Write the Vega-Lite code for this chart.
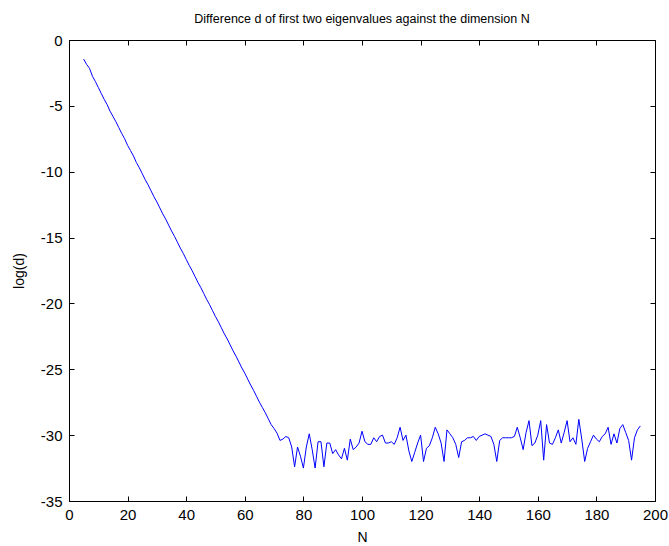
{
  "$schema": "https://vega.github.io/schema/vega-lite/v6.json",
  "autosize": "none",
  "padding": {"left": 69, "top": 40, "right": 14, "bottom": 45},
  "width": 586,
  "height": 461,
  "background": "white",
  "title": {
    "text": "Difference d of first two eigenvalues against the dimension N",
    "fontSize": 12.5,
    "fontWeight": "normal",
    "font": "Liberation Sans",
    "color": "black",
    "offset": 8,
    "anchor": "middle"
  },
  "config": {
    "view": {"stroke": "black", "strokeWidth": 1},
    "axis": {
      "grid": false,
      "domainColor": "black",
      "tickColor": "black",
      "labelColor": "black",
      "labelFont": "Liberation Sans",
      "labelFontSize": 15,
      "titleFont": "Liberation Sans",
      "titleFontSize": 14,
      "titleFontWeight": "normal",
      "titleColor": "black",
      "tickSize": -5,
      "labelExpr": "replace(datum.label, '\u2212', '-')"
    }
  },
  "data": {
    "values": [
      {"N": 5, "logd": -1.45}, {"N": 6, "logd": -1.85}, {"N": 7, "logd": -2.15}, {"N": 8, "logd": -2.75},
      {"N": 9, "logd": -3.15}, {"N": 10, "logd": -3.6}, {"N": 11, "logd": -4.05}, {"N": 12, "logd": -4.5},
      {"N": 13, "logd": -4.9}, {"N": 14, "logd": -5.4}, {"N": 15, "logd": -5.8}, {"N": 16, "logd": -6.2},
      {"N": 17, "logd": -6.65}, {"N": 18, "logd": -7.1}, {"N": 19, "logd": -7.5}, {"N": 20, "logd": -8.0},
      {"N": 21, "logd": -8.4}, {"N": 22, "logd": -8.8}, {"N": 23, "logd": -9.3}, {"N": 24, "logd": -9.7},
      {"N": 25, "logd": -10.15}, {"N": 26, "logd": -10.6}, {"N": 27, "logd": -11.0}, {"N": 28, "logd": -11.45},
      {"N": 29, "logd": -11.9}, {"N": 30, "logd": -12.3}, {"N": 31, "logd": -12.75}, {"N": 32, "logd": -13.2},
      {"N": 33, "logd": -13.6}, {"N": 34, "logd": -14.05}, {"N": 35, "logd": -14.5}, {"N": 36, "logd": -14.9},
      {"N": 37, "logd": -15.35}, {"N": 38, "logd": -15.8}, {"N": 39, "logd": -16.2}, {"N": 40, "logd": -16.65},
      {"N": 41, "logd": -17.1}, {"N": 42, "logd": -17.5}, {"N": 43, "logd": -17.95}, {"N": 44, "logd": -18.4},
      {"N": 45, "logd": -18.8}, {"N": 46, "logd": -19.25}, {"N": 47, "logd": -19.7}, {"N": 48, "logd": -20.1},
      {"N": 49, "logd": -20.55}, {"N": 50, "logd": -21.0}, {"N": 51, "logd": -21.4}, {"N": 52, "logd": -21.85},
      {"N": 53, "logd": -22.3}, {"N": 54, "logd": -22.7}, {"N": 55, "logd": -23.15}, {"N": 56, "logd": -23.6},
      {"N": 57, "logd": -24.0}, {"N": 58, "logd": -24.45}, {"N": 59, "logd": -24.9}, {"N": 60, "logd": -25.3},
      {"N": 61, "logd": -25.75}, {"N": 62, "logd": -26.2}, {"N": 63, "logd": -26.6}, {"N": 64, "logd": -27.05},
      {"N": 65, "logd": -27.5}, {"N": 66, "logd": -27.9}, {"N": 67, "logd": -28.3}, {"N": 68, "logd": -28.75},
      {"N": 69, "logd": -29.2}, {"N": 70, "logd": -29.5}, {"N": 71, "logd": -29.85}, {"N": 72, "logd": -30.4},
      {"N": 73, "logd": -30.3}, {"N": 74, "logd": -30.1}, {"N": 75, "logd": -30.2}, {"N": 76, "logd": -30.9},
      {"N": 77, "logd": -32.4}, {"N": 78, "logd": -30.9}, {"N": 79, "logd": -31.6}, {"N": 80, "logd": -32.5},
      {"N": 81, "logd": -30.9}, {"N": 82, "logd": -29.9}, {"N": 83, "logd": -31.1}, {"N": 84, "logd": -32.5},
      {"N": 85, "logd": -30.5}, {"N": 86, "logd": -30.5}, {"N": 87, "logd": -32.4}, {"N": 88, "logd": -30.6},
      {"N": 89, "logd": -30.6}, {"N": 90, "logd": -31.4}, {"N": 91, "logd": -31.1}, {"N": 92, "logd": -31.5},
      {"N": 93, "logd": -31.8}, {"N": 94, "logd": -31.0}, {"N": 95, "logd": -31.9}, {"N": 96, "logd": -30.3},
      {"N": 97, "logd": -31.1}, {"N": 98, "logd": -30.9}, {"N": 99, "logd": -30.6}, {"N": 100, "logd": -29.7},
      {"N": 101, "logd": -30.5}, {"N": 102, "logd": -30.7}, {"N": 103, "logd": -30.7}, {"N": 104, "logd": -30.2},
      {"N": 105, "logd": -30.5}, {"N": 106, "logd": -30.1}, {"N": 107, "logd": -30.0}, {"N": 108, "logd": -30.6},
      {"N": 109, "logd": -30.6}, {"N": 110, "logd": -30.5}, {"N": 111, "logd": -30.7}, {"N": 112, "logd": -30.2},
      {"N": 113, "logd": -29.4}, {"N": 114, "logd": -30.4}, {"N": 115, "logd": -30.0}, {"N": 116, "logd": -31.2},
      {"N": 117, "logd": -32.0}, {"N": 118, "logd": -31.3}, {"N": 119, "logd": -30.6}, {"N": 120, "logd": -30.0},
      {"N": 121, "logd": -32.0}, {"N": 122, "logd": -31.0}, {"N": 123, "logd": -30.8}, {"N": 124, "logd": -30.2},
      {"N": 125, "logd": -29.4}, {"N": 126, "logd": -29.9}, {"N": 127, "logd": -30.6}, {"N": 128, "logd": -32.0},
      {"N": 129, "logd": -29.6}, {"N": 130, "logd": -29.9}, {"N": 131, "logd": -30.2}, {"N": 132, "logd": -30.7},
      {"N": 133, "logd": -31.7}, {"N": 134, "logd": -30.5}, {"N": 135, "logd": -30.4}, {"N": 136, "logd": -30.2},
      {"N": 137, "logd": -30.2}, {"N": 138, "logd": -30.1}, {"N": 139, "logd": -30.4}, {"N": 140, "logd": -30.1},
      {"N": 141, "logd": -30.0}, {"N": 142, "logd": -29.9}, {"N": 143, "logd": -30.0}, {"N": 144, "logd": -30.1},
      {"N": 145, "logd": -30.7}, {"N": 146, "logd": -32.0}, {"N": 147, "logd": -30.4}, {"N": 148, "logd": -30.2},
      {"N": 149, "logd": -30.2}, {"N": 150, "logd": -30.2}, {"N": 151, "logd": -30.2}, {"N": 152, "logd": -30.1},
      {"N": 153, "logd": -29.4}, {"N": 154, "logd": -30.2}, {"N": 155, "logd": -31.1}, {"N": 156, "logd": -29.8},
      {"N": 157, "logd": -28.9}, {"N": 158, "logd": -30.8}, {"N": 159, "logd": -30.6}, {"N": 160, "logd": -30.0},
      {"N": 161, "logd": -28.9}, {"N": 162, "logd": -31.9}, {"N": 163, "logd": -29.2}, {"N": 164, "logd": -30.6},
      {"N": 165, "logd": -30.7}, {"N": 166, "logd": -30.2}, {"N": 167, "logd": -29.6}, {"N": 168, "logd": -30.6},
      {"N": 169, "logd": -29.8}, {"N": 170, "logd": -28.9}, {"N": 171, "logd": -30.5}, {"N": 172, "logd": -30.2},
      {"N": 173, "logd": -30.7}, {"N": 174, "logd": -28.8}, {"N": 175, "logd": -30.3}, {"N": 176, "logd": -32.0},
      {"N": 177, "logd": -31.0}, {"N": 178, "logd": -30.5}, {"N": 179, "logd": -30.0}, {"N": 180, "logd": -30.3},
      {"N": 181, "logd": -30.5}, {"N": 182, "logd": -30.1}, {"N": 183, "logd": -29.9}, {"N": 184, "logd": -29.4},
      {"N": 185, "logd": -30.7}, {"N": 186, "logd": -29.9}, {"N": 187, "logd": -30.6}, {"N": 188, "logd": -29.5},
      {"N": 189, "logd": -29.2}, {"N": 190, "logd": -29.8}, {"N": 191, "logd": -30.4}, {"N": 192, "logd": -31.9},
      {"N": 193, "logd": -30.2}, {"N": 194, "logd": -29.6}, {"N": 195, "logd": -29.3}
    ]
  },
  "layer": [
    {
      "mark": {"type": "line", "color": "#0000ff", "strokeWidth": 1},
      "encoding": {
        "x": {
          "field": "N", "type": "quantitative",
          "scale": {"domain": [0, 200], "nice": false, "zero": false},
          "axis": {"orient": "bottom", "title": "N", "values": [0, 20, 40, 60, 80, 100, 120, 140, 160, 180, 200], "labelPadding": 11, "titlePadding": 8, "labelFlush": false}
        },
        "y": {
          "field": "logd", "type": "quantitative",
          "scale": {"domain": [-35, 0], "nice": false, "zero": false},
          "axis": {"orient": "left", "title": "log(d)", "values": [-35, -30, -25, -20, -15, -10, -5, 0], "labelPadding": 12, "titlePadding": 14, "labelFlush": false}
        }
      }
    },
    {
      "mark": {"type": "line", "opacity": 0},
      "encoding": {
        "x": {
          "field": "N", "type": "quantitative",
          "axis": {"orient": "top", "title": null, "labels": false, "domain": false, "values": [0, 20, 40, 60, 80, 100, 120, 140, 160, 180, 200]}
        },
        "y": {
          "field": "logd", "type": "quantitative",
          "axis": {"orient": "right", "title": null, "labels": false, "domain": false, "values": [-35, -30, -25, -20, -15, -10, -5, 0]}
        }
      }
    }
  ]
}
